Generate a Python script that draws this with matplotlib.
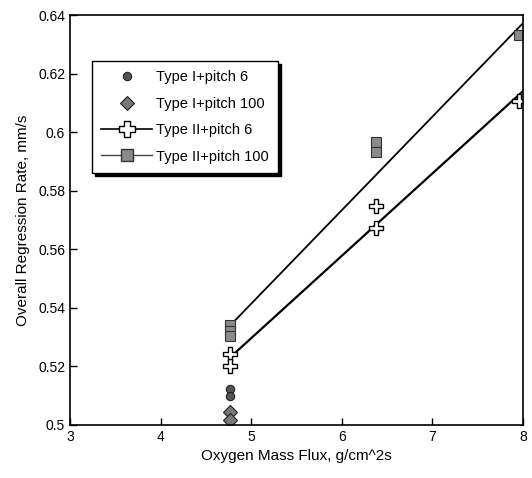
import matplotlib
matplotlib.use("Agg")
import matplotlib.pyplot as plt
from matplotlib.ticker import FuncFormatter

plt.rcParams['font.family'] = ['Liberation Sans', 'DejaVu Sans']

# Data
t1p6_x = [4.77, 4.77]
t1p6_y = [0.5123, 0.5099]
t1p100_x = [4.77, 4.77]
t1p100_y = [0.5044, 0.5017]
t2p6_x = [4.77, 4.77, 6.38, 6.38, 7.96]
t2p6_y = [0.5242, 0.5201, 0.5748, 0.5672, 0.6105]
t2p100_x = [4.77, 4.77, 4.77, 6.38, 6.38, 7.96]
t2p100_y = [0.5340, 0.5320, 0.5305, 0.5967, 0.5931, 0.6333]
# fitted lines (endpoints)
fit_x = [4.80, 8.0]
fit6_y = [0.5240, 0.6140]
fit100_y = [0.5350, 0.6372]

xticks = [3, 4, 5, 6, 7, 8]
yticks = [0.5, 0.52, 0.54, 0.56, 0.58, 0.6, 0.62, 0.64]

fig = plt.figure(figsize=(5.32, 4.78), dpi=100)
ax = fig.add_axes([0.1316, 0.111, 0.8514, 0.8576])

h1, = ax.plot(t1p6_x, t1p6_y, linestyle='none', marker='o', markersize=6,
              markerfacecolor='#555555', markeredgecolor='#222222', markeredgewidth=0.8,
              label='Type I+pitch 6')
h2, = ax.plot(t1p100_x, t1p100_y, linestyle='none', marker='D', markersize=7,
              markerfacecolor='#777777', markeredgecolor='#222222', markeredgewidth=0.8,
              label='Type I+pitch 100')
ax.plot(fit_x, fit6_y, color='black', linewidth=1.6)
ax.plot(fit_x, fit100_y, color='black', linewidth=1.3)
ax.plot(t2p6_x, t2p6_y, linestyle='none', marker='P', markersize=10,
        markerfacecolor='white', markeredgecolor='black', markeredgewidth=1.0)
ax.plot(t2p100_x, t2p100_y, linestyle='none', marker='s', markersize=7.5,
        markerfacecolor='#8a8a8a', markeredgecolor='#333333', markeredgewidth=0.8)

# legend proxies with line
h3, = ax.plot([], [], color='black', linewidth=1.2, marker='P', markersize=11,
              markerfacecolor='white', markeredgecolor='black', label='Type II+pitch 6')
h4, = ax.plot([], [], color='#444444', linewidth=1.0, marker='s', markersize=8,
              markerfacecolor='#8a8a8a', markeredgecolor='#333333', label='Type II+pitch 100')

ax.set_xlim(3, 8)
ax.set_ylim(0.5, 0.64)
ax.set_xticks(xticks)
ax.set_yticks(yticks)
ax.xaxis.set_major_formatter(FuncFormatter(lambda v, p: f"{v:g}"))
ax.yaxis.set_major_formatter(FuncFormatter(lambda v, p: f"{v:g}"))
ax.tick_params(direction='in', length=5, width=1, labelsize=10, top=False, right=False)
for s in ax.spines.values():
    s.set_linewidth(1.2)

ax.set_xlabel('Oxygen Mass Flux, g/cm^2s', fontsize=11, labelpad=4)
ax.set_ylabel('Overall Regression Rate, mm/s', fontsize=11, labelpad=6)

leg = ax.legend(handles=[h1, h2, h3, h4], loc='upper left',
                bbox_to_anchor=(0.048, 0.888), fontsize=10.5, frameon=True,
                fancybox=False, shadow={'color': 'black', 'alpha': 1.0, 'ox': 2, 'oy': -2},
                edgecolor='black', framealpha=1, handlelength=3.5,
                handletextpad=0.25, borderpad=0.65, labelspacing=0.85,
                borderaxespad=0, markerscale=1.0)
leg.get_frame().set_linewidth(1.0)

fig.savefig('out.png', dpi=100)
